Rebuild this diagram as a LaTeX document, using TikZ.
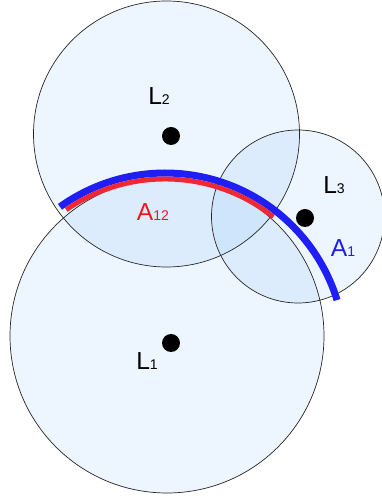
\documentclass[tikz,border=0pt]{standalone}
\usepackage{fontspec}
\setmainfont{Liberation Sans}
\usepackage{xcolor}
\usepackage{tikz}

\definecolor{zonefill}{rgb}{0.45,0.70,0.97}
\definecolor{arcblue}{RGB}{30,30,245}
\definecolor{arcred}{RGB}{238,40,52}
\definecolor{labred}{RGB}{245,20,30}
\definecolor{labblue}{RGB}{30,30,235}

\newcommand{\sublabel}[2]{{\fontsize{21}{21}\selectfont #1}{\fontsize{12}{12}\selectfont #2}}

\begin{document}
\begin{tikzpicture}[x=0.03cm, y=0.03cm]
        % Styles
        \tikzstyle{zone} = [fill=zonefill, fill opacity=0.13]
        \tikzstyle{rim} = [draw=black!85, line width=0.6pt]
        \tikzstyle{dot} = [circle, fill=black, inner sep=0pt, minimum size=0.54cm]
        \tikzstyle{tag} = [anchor=base, inner sep=0pt]

        \useasboundingbox (0,0) rectangle (381,503);

        % Centres
        \coordinate (c1) at (167,167);
        \coordinate (c2) at (166.5,369);
        \coordinate (c3) at (298,286.5);
        \coordinate (arcc) at (165,150);

        % Circles
        \fill[zone] (c1) circle[radius=157];
        \fill[zone] (c2) circle[radius=133];
        \fill[zone] (c3) circle[radius=86.5];
        \draw[rim] (c1) circle[radius=157];
        \draw[rim] (c2) circle[radius=133];
        \draw[rim] (c3) circle[radius=86.5];

        % Arcs
        \draw[arcblue, line width=6pt] ([shift={(125.7:180)}]arcc) arc[start angle=125.7, end angle=17.1, radius=180];
        \draw[arcred, line width=4.2pt] ([shift={(124.6:174)}]arcc) arc[start angle=124.6, end angle=51.5, radius=174];

        % Points
        \node (p1) [dot] at (171,160) {};
        \node (p2) [dot] at (171,367) {};
        \node (p3) [dot] at (305,285) {};

        % Labels
        \node (l1) [tag] at (147,133) {\sublabel{L}{1}};
        \node (l2) [tag] at (159,398) {\sublabel{L}{2}};
        \node (l3) [tag] at (334,309) {\sublabel{L}{3}};
        \node (a12) [tag, text=labred] at (153,282) {\sublabel{A}{12}};
        \node (a1) [tag, text=labblue] at (343,246) {\sublabel{A}{1}};
    \end{tikzpicture}
\end{document}
